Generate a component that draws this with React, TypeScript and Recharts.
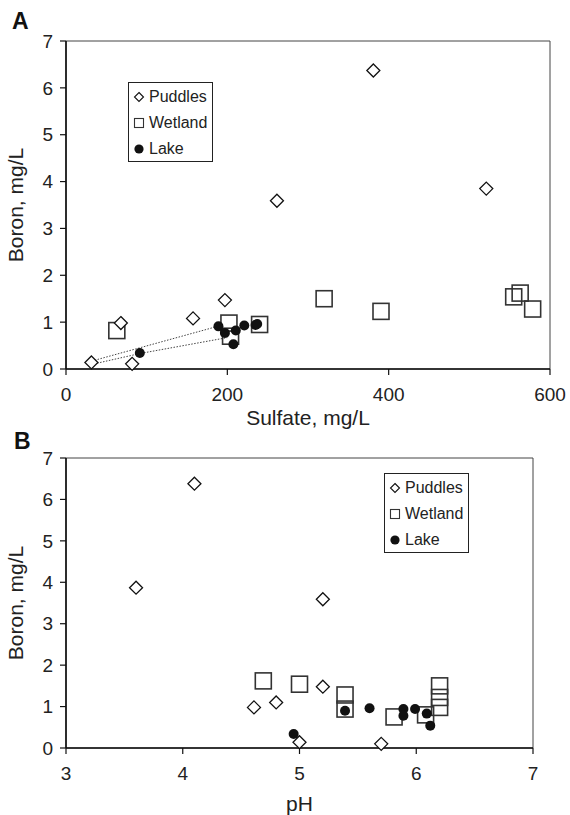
import React from 'react';
import { ScatterChart, Scatter, XAxis, YAxis, ReferenceArea, Legend, Label } from 'recharts';

const FONT = '"Liberation Sans", Arial, Helvetica, sans-serif';

// Axis ticks
const sulfateTicks = [0, 200, 400, 600];
const phTicks = [3, 4, 5, 6, 7];
const boronTicks = [0, 1, 2, 3, 4, 5, 6, 7];

// Panel A: Boron vs Sulfate
const puddlesSulfate = [31.5, 68, 82, 157.5, 197, 261.5, 381, 521];
const puddlesBoronA = [0.14, 0.98, 0.11, 1.08, 1.47, 3.59, 6.37, 3.85];
const wetlandSulfate = [63, 202, 204, 240, 320, 390.5, 555, 563, 578.5];
const wetlandBoronA = [0.82, 0.98, 0.7, 0.95, 1.5, 1.23, 1.54, 1.62, 1.28];
const lakeSulfate = [91.5, 189, 197, 207.5, 210.5, 221, 235, 237];
const lakeBoronA = [0.34, 0.91, 0.77, 0.53, 0.82, 0.93, 0.94, 0.96];

// dotted envelope around the lake group
const envelopeUpperSulfate = [32, 190];
const envelopeUpperBoron = [0.17, 0.92];
const envelopeLowerSulfate = [35, 91.5, 200];
const envelopeLowerBoron = [0.11, 0.33, 0.67];

// Panel B: Boron vs pH
const puddlesPH = [3.6, 4.1, 4.61, 4.8, 5.0, 5.2, 5.2, 5.7];
const puddlesBoronB = [3.87, 6.38, 0.98, 1.1, 0.14, 3.59, 1.48, 0.1];
const wetlandPH = [4.69, 5.0, 5.39, 5.39, 5.81, 6.08, 6.2, 6.2, 6.2];
const wetlandBoronB = [1.62, 1.54, 1.28, 0.94, 0.75, 0.8, 1.5, 1.22, 0.98];
const lakePH = [4.95, 5.39, 5.6, 5.89, 5.89, 5.99, 6.09, 6.12];
const lakeBoronB = [0.34, 0.9, 0.96, 0.94, 0.78, 0.94, 0.83, 0.54];

const seriesNames = ['Puddles', 'Wetland', 'Lake'];

const zip = (xs: number[], ys: number[]) => xs.map((x, i) => ({ x, y: ys[i] }));

const Diamond = (p: any) => {
  const { cx, cy } = p;
  const r = 6.5;
  return (
    <path
      d={`M${cx},${cy - r}L${cx + r},${cy}L${cx},${cy + r}L${cx - r},${cy}Z`}
      fill="#fff"
      stroke="#111"
      strokeWidth={1.3}
    />
  );
};
const Square = (p: any) => {
  const { cx, cy } = p;
  const r = 8;
  return <rect x={cx - r} y={cy - r} width={2 * r} height={2 * r} fill="none" stroke="#333" strokeWidth={1.6} />;
};
const Dot = (p: any) => {
  const { cx, cy } = p;
  return <circle cx={cx} cy={cy} r={5} fill="#111" />;
};
const NoShape = () => <g />;

const legendIcon = (name: string) => {
  if (name === 'Puddles')
    return <path d="M6,1.5L10.5,6L6,10.5L1.5,6Z" fill="#fff" stroke="#111" strokeWidth={1.1} />;
  if (name === 'Wetland')
    return <rect x={1.5} y={1.5} width={9} height={9} fill="none" stroke="#333" strokeWidth={1.1} />;
  return <circle cx={6} cy={6} r={4.6} fill="#111" />;
};

const LegendBox = () => (
  <div
    style={{
      boxSizing: 'border-box',
      width: 85,
      height: 80,
      border: '1px solid #222',
      background: '#fff',
      paddingTop: 1,
      fontFamily: FONT,
      fontSize: 16,
      color: '#222',
    }}
  >
    {seriesNames.map((n) => (
      <div key={n} style={{ height: 26, display: 'flex', alignItems: 'center', paddingLeft: 4 }}>
        <svg width={12} height={12} style={{ marginRight: 4, flex: 'none' }}>
          {legendIcon(n)}
        </svg>
        <span style={{ lineHeight: '26px' }}>{n}</span>
      </div>
    ))}
  </div>
);

const tickStyle = { fontSize: 19, fill: '#222', fontFamily: FONT };
const axisLineStyle = { stroke: '#111', strokeWidth: 1.6 };
const tickLineStyle = { stroke: '#111', strokeWidth: 1.2 };

const yTitle = (cx: number) => (props: any) => {
  const vb = props.viewBox || {};
  const cy = vb.y + vb.height / 2;
  return (
    <text
      x={cx}
      y={cy}
      transform={`rotate(-90, ${cx}, ${cy})`}
      textAnchor="middle"
      fontSize={21}
      fill="#222"
      fontFamily={FONT}
    >
      Boron, mg/L
    </text>
  );
};

const xTitle = (text: string, baseline: number) => (props: any) => {
  const vb = props.viewBox || {};
  return (
    <text x={vb.x + vb.width / 2} y={baseline} textAnchor="middle" fontSize={21} fill="#222" fontFamily={FONT}>
      {text}
    </text>
  );
};

const PanelA = () => (
  <ScatterChart width={570} height={430} margin={{ top: 41, right: 20, bottom: 0, left: 0 }}>
    <ReferenceArea x1={0} x2={600} y1={0} y2={7} fill="none" stroke="#444" strokeWidth={1} />
    <XAxis
      type="number"
      dataKey="x"
      domain={[0, 600]}
      ticks={sulfateTicks}
      height={61}
      tick={tickStyle}
      tickSize={6}
      tickMargin={13}
      axisLine={axisLineStyle}
      tickLine={tickLineStyle}
    >
      <Label content={xTitle('Sulfate, mg/L', 425)} />
    </XAxis>
    <YAxis
      type="number"
      dataKey="y"
      domain={[0, 7]}
      ticks={boronTicks}
      width={66}
      tick={tickStyle}
      tickSize={6}
      tickMargin={7}
      axisLine={axisLineStyle}
      tickLine={tickLineStyle}
    >
      <Label content={yTitle(23)} />
    </YAxis>
    <Scatter
      data={zip(envelopeUpperSulfate, envelopeUpperBoron)}
      line={{ stroke: '#444', strokeWidth: 1, strokeDasharray: '1.5 1.5' }}
      shape={NoShape}
      isAnimationActive={false}
      legendType="none"
    />
    <Scatter
      data={zip(envelopeLowerSulfate, envelopeLowerBoron)}
      line={{ stroke: '#444', strokeWidth: 1, strokeDasharray: '1.5 1.5' }}
      shape={NoShape}
      isAnimationActive={false}
      legendType="none"
    />
    <Scatter name="Wetland" data={zip(wetlandSulfate, wetlandBoronA)} shape={Square} isAnimationActive={false} />
    <Scatter name="Lake" data={zip(lakeSulfate, lakeBoronA)} shape={Dot} isAnimationActive={false} />
    <Scatter name="Puddles" data={zip(puddlesSulfate, puddlesBoronA)} shape={Diamond} isAnimationActive={false} />
    <Legend
      layout="horizontal"
      verticalAlign="middle"
      align="center"
      content={() => <LegendBox />}
      wrapperStyle={{ left: 128, top: 82, right: 'auto', bottom: 'auto', width: 'auto', height: 'auto' }}
    />
  </ScatterChart>
);

const PanelB = () => (
  <ScatterChart width={570} height={395} margin={{ top: 38, right: 37, bottom: 0, left: 0 }}>
    <ReferenceArea x1={3} x2={7} y1={0} y2={7} fill="none" stroke="#444" strokeWidth={1} />
    <XAxis
      type="number"
      dataKey="x"
      domain={[3, 7]}
      ticks={phTicks}
      height={67}
      tick={tickStyle}
      tickSize={6}
      tickMargin={13}
      axisLine={axisLineStyle}
      tickLine={tickLineStyle}
    >
      <Label content={xTitle('pH', 391)} />
    </XAxis>
    <YAxis
      type="number"
      dataKey="y"
      domain={[0, 7]}
      ticks={boronTicks}
      width={66}
      tick={tickStyle}
      tickSize={6}
      tickMargin={7}
      axisLine={axisLineStyle}
      tickLine={tickLineStyle}
    >
      <Label content={yTitle(23)} />
    </YAxis>
    <Scatter name="Wetland" data={zip(wetlandPH, wetlandBoronB)} shape={Square} isAnimationActive={false} />
    <Scatter name="Lake" data={zip(lakePH, lakeBoronB)} shape={Dot} isAnimationActive={false} />
    <Scatter name="Puddles" data={zip(puddlesPH, puddlesBoronB)} shape={Diamond} isAnimationActive={false} />
    <Legend
      layout="horizontal"
      verticalAlign="middle"
      align="center"
      content={() => <LegendBox />}
      wrapperStyle={{ left: 384, top: 53, right: 'auto', bottom: 'auto', width: 'auto', height: 'auto' }}
    />
  </ScatterChart>
);

export default function App() {
  return (
    <div style={{ position: 'absolute', left: 0, top: 0, width: 570, height: 815, background: '#fff' }}>
      <div style={{ position: 'absolute', left: 0, top: 0 }}>
        <PanelA />
      </div>
      <div style={{ position: 'absolute', left: 0, top: 420 }}>
        <PanelB />
      </div>
      <svg width={570} height={815} style={{ position: 'absolute', left: 0, top: 0, pointerEvents: 'none' }}>
        <text x={12} y={29} fontSize={23} fontWeight="bold" fill="#111" fontFamily={FONT}>
          A
        </text>
        <text x={14} y={449} fontSize={23} fontWeight="bold" fill="#111" fontFamily={FONT}>
          B
        </text>
      </svg>
    </div>
  );
}
